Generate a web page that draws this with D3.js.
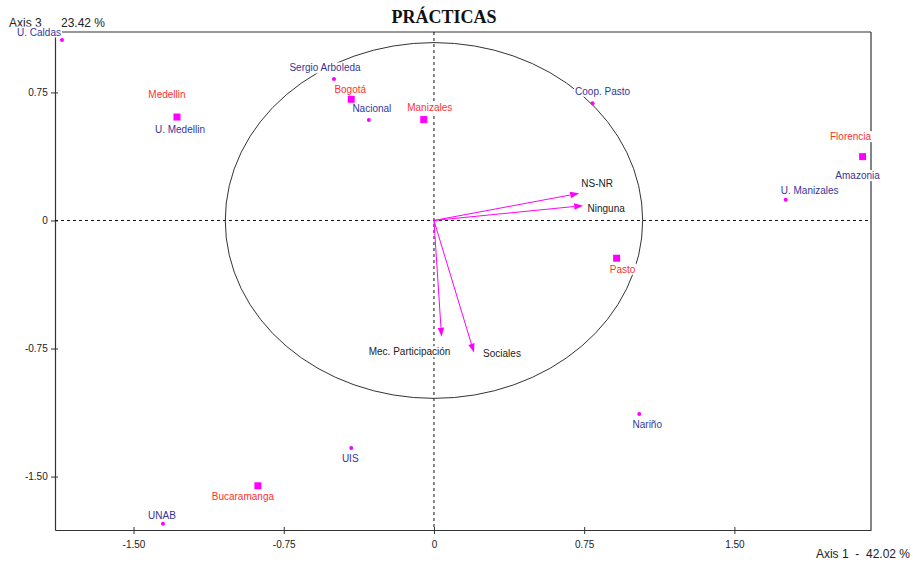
<!DOCTYPE html>
<html>
<head>
<meta charset="utf-8">
<script src="https://cdn.jsdelivr.net/npm/d3@7"></script>
<style>
  html, body { margin: 0; padding: 0; background: #fff; }
  svg { display: block; }
  text { font-family: "Liberation Sans", Arial, sans-serif; }
</style>
</head>
<body>
<svg id="chart" width="913" height="564"></svg>
<script>
// ---------------- DATA ----------------
const title = "PRÁCTICAS";
const axisXLabel = "Axis 1  -  42.02 %";
const axisYName = "Axis 3";
const axisYPct = "23.42 %";

const xTicks = [-1.5, -0.75, 0, 0.75, 1.5];
const xTickLabels = ["-1.50", "-0.75", "0", "0.75", "1.50"];
const yTicks = [0.75, 0, -0.75, -1.5];
const yTickLabels = ["0.75", "0", "-0.75", "-1.50"];

// universities (blue labels, small dots)
const uniNames = ["U. Caldas", "U. Medellin", "Sergio Arboleda", "Nacional", "Coop. Pasto",
                  "Amazonia", "U. Manizales", "Nariño", "UIS", "UNAB"];
const uniX = [-1.857, -1.283, -0.499, -0.325, 0.792, 2.140, 1.756, 1.025, -0.413, -1.353];
const uniY = [ 1.057,  0.606,  0.829,  0.589, 0.687, 0.374, 0.122, -1.134, -1.333, -1.776];

// cities (red labels, squares)
const cityNames = ["Medellin", "Bogotá", "Manizales", "Florencia", "Pasto", "Bucaramanga"];
const cityX = [-1.283, -0.413, -0.051, 2.140, 0.912, -0.879];
const cityY = [ 0.606,  0.710,  0.591, 0.374, -0.221, -1.554];

// variables (arrows)
const varNames = ["NS-NR", "Ninguna", "Mec. Participación", "Sociales"];
const varX = [0.725, 0.745, 0.038, 0.200];
const varY = [0.159, 0.087, -0.681, -0.774];

const circleRadius = 1.042;

// ---------------- LAYOUT (label placement, px offsets from mark) ----------------
const labelOffset = {
  "U. Caldas": [-23, -8], "U. Medellin": [3, 12], "Sergio Arboleda": [-9, -11],
  "Nacional": [3, -11], "Coop. Pasto": [10, -12], "Amazonia": [-5, 19],
  "U. Manizales": [24, -9], "Nariño": [8, 10], "UIS": [-1, 10], "UNAB": [-1, -8],
  "Medellin": [-10, -23], "Bogotá": [-1, -10], "Manizales": [6, -12],
  "Florencia": [-12, -20], "Pasto": [6, 11], "Bucaramanga": [-15, 11],
  "NS-NR": [18, -10], "Ninguna": [23, 3], "Mec. Participación": [-32, 15], "Sociales": [28, 1]
};

// ---------------- CHART ----------------
const W = 913, H = 564;
const margin = {left: 55, right: 42, top: 32, bottom: 34};
const svg = d3.select("#chart");

const x = d3.scaleLinear().domain([-1.892, 2.182]).range([margin.left, W - margin.right]);
const y = d3.scaleLinear().domain([-1.813, 1.104]).range([H - margin.bottom, margin.top]);

const magenta = "#ff00ff";
const blue = "#35359a";
const red = "#ff3030";
const dark = "#222";

// title
svg.append("text").attr("x", 444).attr("y", 23).attr("text-anchor", "middle")
  .style("font-family", "'Liberation Serif', 'Times New Roman', serif")
  .style("font-weight", "bold").style("font-size", "18px").attr("fill", "#111")
  .text(title);

// axis titles
svg.append("text").attr("x", 9).attr("y", 27).style("font-size", "12px").attr("fill", dark).text(axisYName);
svg.append("text").attr("x", 61).attr("y", 27).style("font-size", "12px").attr("fill", dark).text(axisYPct);
svg.append("text").attr("x", 910).attr("y", 558).attr("text-anchor", "end")
  .style("font-size", "12px").style("white-space", "pre").attr("fill", dark).text(axisXLabel);

// frame top / right
svg.append("line").attr("x1", x.range()[0]).attr("x2", x.range()[1]).attr("y1", y.range()[1]).attr("y2", y.range()[1])
  .attr("stroke", "#333").attr("stroke-width", 1.2);
svg.append("line").attr("x1", x.range()[1]).attr("x2", x.range()[1]).attr("y1", y.range()[1]).attr("y2", y.range()[0])
  .attr("stroke", "#333").attr("stroke-width", 1.2);

// axes
const xAxis = d3.axisBottom(x).tickValues(xTicks).tickFormat((d, i) => xTickLabels[i])
  .tickSizeInner(4).tickSizeOuter(0).tickPadding(6.5);
const gx = svg.append("g").attr("transform", `translate(0,${y.range()[0]})`).call(xAxis);
gx.selectAll(".tick line").attr("y1", -3).attr("stroke", "#333");
gx.select(".domain").attr("stroke", "#333").attr("stroke-width", 1.2);
gx.selectAll("text").style("font-size", "10px").attr("fill", dark).style("font-family", "'Liberation Sans', Arial, sans-serif");

const yAxis = d3.axisLeft(y).tickValues(yTicks).tickFormat((d, i) => yTickLabels[i])
  .tickSizeInner(4).tickSizeOuter(0).tickPadding(3.3);
const gy = svg.append("g").attr("transform", `translate(${x.range()[0]},0)`).call(yAxis);
gy.selectAll(".tick line").attr("x1", 3).attr("stroke", "#333");
gy.select(".domain").attr("stroke", "#333").attr("stroke-width", 1.2);
gy.selectAll("text").style("font-size", "10px").attr("fill", dark).style("font-family", "'Liberation Sans', Arial, sans-serif");

// zero lines
svg.append("line").attr("x1", x.range()[0]).attr("x2", x.range()[1]).attr("y1", y(0)).attr("y2", y(0))
  .attr("stroke", "#111").attr("stroke-dasharray", "3,3");
svg.append("line").attr("x1", x(0)).attr("x2", x(0)).attr("y1", y.range()[1]).attr("y2", y.range()[0])
  .attr("stroke", "#111").attr("stroke-dasharray", "3,3");

// correlation circle (ellipse due to unequal axis scaling)
svg.append("ellipse").attr("cx", x(0)).attr("cy", y(0))
  .attr("rx", x(circleRadius) - x(0)).attr("ry", y(0) - y(circleRadius))
  .attr("fill", "none").attr("stroke", "#333").attr("stroke-width", 1);

// arrows
const vars = varNames.map((n, i) => ({name: n, x: varX[i], y: varY[i]}));
const ga = svg.append("g");
vars.forEach(v => {
  const x0 = x(0), y0 = y(0), x1 = x(v.x), y1 = y(v.y);
  const ang = Math.atan2(y1 - y0, x1 - x0);
  const L = 9, hw = 3.2;
  const bx = x1 - L * Math.cos(ang), by = y1 - L * Math.sin(ang);
  ga.append("line").attr("x1", x0).attr("y1", y0).attr("x2", bx).attr("y2", by)
    .attr("stroke", magenta).attr("stroke-width", 1);
  const p1 = [bx + hw * Math.sin(ang), by - hw * Math.cos(ang)];
  const p2 = [bx - hw * Math.sin(ang), by + hw * Math.cos(ang)];
  ga.append("polygon").attr("points", [[x1, y1], p1, p2].map(p => p.join(",")).join(" "))
    .attr("fill", magenta);
});

// points
const unis = uniNames.map((n, i) => ({name: n, x: uniX[i], y: uniY[i]}));
const cities = cityNames.map((n, i) => ({name: n, x: cityX[i], y: cityY[i]}));

svg.append("g").selectAll("circle").data(unis).join("circle")
  .attr("cx", d => x(d.x)).attr("cy", d => y(d.y)).attr("r", 2).attr("fill", magenta);
svg.append("g").selectAll("rect").data(cities).join("rect")
  .attr("x", d => x(d.x) - 3.5).attr("y", d => y(d.y) - 3.5).attr("width", 7).attr("height", 7)
  .attr("fill", magenta);

// labels with white background boxes
const gl = svg.append("g");
function addLabel(d, color) {
  const off = labelOffset[d.name] || [0, -10];
  const g = gl.append("g");
  const rect = g.append("rect").attr("fill", "#fff");
  const t = g.append("text").attr("x", x(d.x) + off[0]).attr("y", y(d.y) + off[1])
    .attr("dy", "0.35em").attr("text-anchor", "middle")
    .style("font-size", "10px").attr("fill", color).text(d.name);
  const bb = t.node().getBBox();
  rect.attr("x", bb.x - 1).attr("y", bb.y).attr("width", bb.width + 2).attr("height", bb.height);
}
unis.forEach(d => addLabel(d, blue));
cities.forEach(d => addLabel(d, red));
vars.forEach(d => addLabel(d, dark));
</script>
</body>
</html>
